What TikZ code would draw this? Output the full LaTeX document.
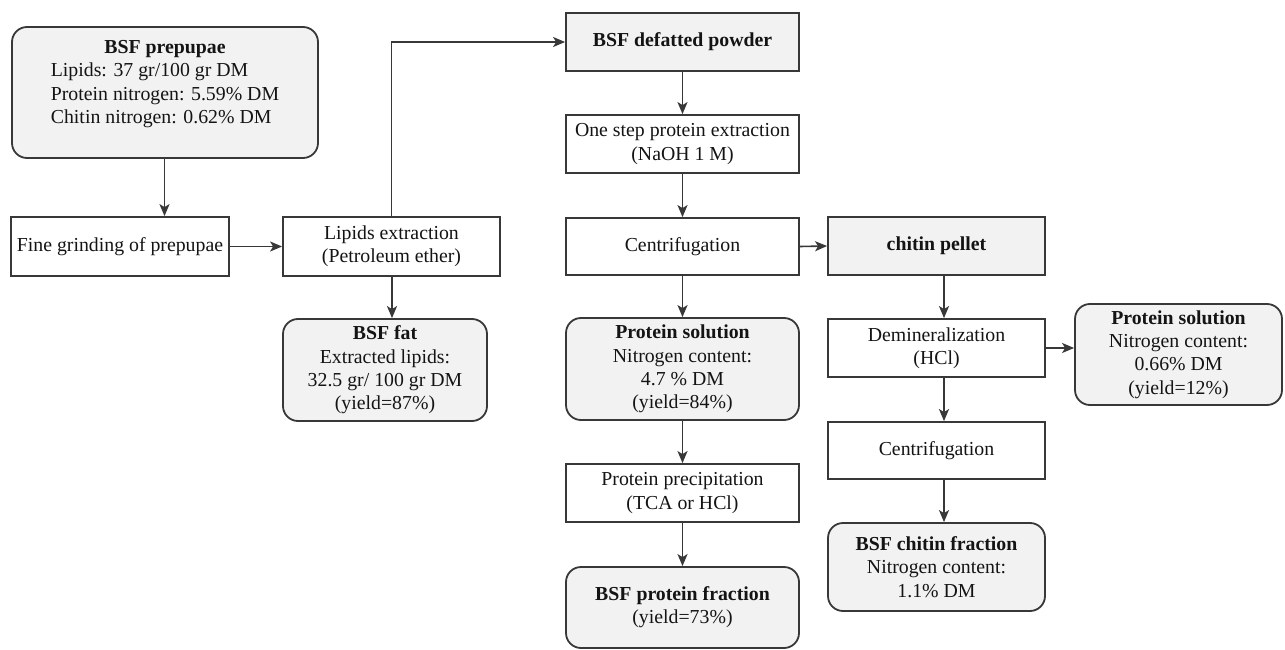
\documentclass[tikz,border=0pt]{standalone}
\usepackage{fontspec}
\setmainfont{Liberation Serif}
\usetikzlibrary{arrows.meta}
\definecolor{linec}{HTML}{383838}
\definecolor{boxfill}{HTML}{F2F2F2}
\definecolor{inkc}{HTML}{141414}
\newcommand\diagfont{\fontsize{19.8}{23.3}\selectfont}
\tikzset{
  box/.style={draw=linec, line width=1.8pt, fill=white, align=center,
    inner sep=0pt, font=\diagfont, text=inkc},
  shaded/.style={box, fill=boxfill},
  rbox/.style={box, fill=boxfill, rounded corners=15pt},
  txt/.style={align=center, inner sep=0pt, font=\diagfont, text=inkc},
  arr/.style={draw=linec, line width=1.6pt,
    -{Stealth[length=12pt,width=10pt,inset=3pt]}}
}
\begin{document}
\begin{tikzpicture}[x=1pt, y=-1pt]
\useasboundingbox (0,0) rectangle (1285,650);
\fill[white] (0,0) rectangle (1285,650);

% left column
\node[rbox, minimum width=306pt, minimum height=131pt] (prep) at (165,92.5) {};
\node[txt] (prepText) at ([yshift=7pt]prep.center)
  {\textbf{BSF prepupae}\\\begin{tabular}[t]{@{}l@{}}Lipids: 37 gr/100 gr DM\\
   Protein nitrogen: 5.59\% DM\\ Chitin nitrogen: 0.62\% DM\end{tabular}};
\node[box, minimum width=218pt, minimum height=59pt] (grind) at (120,246.5)
  {Fine grinding of prepupae};

% lipid extraction
\node[box, minimum width=217pt, minimum height=59pt] (lipid) at (391.5,246.5)
  {Lipids extraction\\(Petroleum ether)};
\node[rbox, minimum width=204pt, minimum height=102pt] (fat) at (385,370)
  {\textbf{BSF fat}\\Extracted lipids:\\32.5 gr/ 100 gr DM\\(yield=87\%)};

% protein column
\node[shaded, minimum width=233pt, minimum height=58pt] (powder) at (682.5,42)
  {\textbf{BSF defatted powder}};
\node[box, minimum width=233pt, minimum height=58pt] (onestep) at (682.5,144)
  {One step protein extraction\\(NaOH 1 M)};
\node[box, minimum width=233pt, minimum height=57pt] (centA) at (682.5,246.5)
  {Centrifugation};
\node[rbox, minimum width=233pt, minimum height=102pt] (psol) at (682.5,369)
  {\textbf{Protein solution}\\Nitrogen content:\\4.7 \% DM\\(yield=84\%)};
\node[box, minimum width=233pt, minimum height=58pt] (precip) at (682.5,493)
  {Protein precipitation\\(TCA or HCl)};
\node[rbox, minimum width=233pt, minimum height=81pt] (pfrac) at (682.5,607.5)
  {\textbf{BSF protein fraction}\\(yield=73\%)};

% chitin column
\node[shaded, minimum width=217pt, minimum height=58pt] (pellet) at (936.5,246)
  {\textbf{chitin pellet}};
\node[box, minimum width=217pt, minimum height=58pt] (demin) at (936.5,348)
  {Demineralization\\(HCl)};
\node[box, minimum width=217pt, minimum height=57pt] (centB) at (936.5,450.5)
  {Centrifugation};
\node[rbox, minimum width=217pt, minimum height=88pt] (cfrac) at (936.5,567)
  {\textbf{BSF chitin fraction}\\Nitrogen content:\\1.1\% DM};
\node[rbox, minimum width=207pt, minimum height=101pt] (psolB) at (1178.5,354.5)
  {\textbf{Protein solution}\\Nitrogen content:\\0.66\% DM\\(yield=12\%)};

% connectors
\draw[arr] (prep.south -| 164.5,0) -- (grind.north -| 164.5,0);
\draw[arr] (grind.east) -- (lipid.west);
\draw[arr] (lipid.north) |- (powder.west);
\draw[arr] ([xshift=0.5pt]lipid.south) -- ([xshift=0.5pt]lipid.south |- fat.north);
\draw[arr] (powder.south) -- (onestep.north);
\draw[arr] (onestep.south) -- (centA.north);
\draw[arr] (centA.south) -- (psol.north);
\draw[arr] (psol.south) -- (precip.north);
\draw[arr] (precip.south) -- (pfrac.north);
\draw[arr] (centA.east) -- (pellet.west);
\draw[arr] ([xshift=7.5pt]pellet.south) -- ([xshift=7.5pt]demin.north);
\draw[arr] ([xshift=7.5pt]demin.south) -- ([xshift=7.5pt]centB.north);
\draw[arr] ([xshift=7.5pt]centB.south) -- ([xshift=7.5pt]cfrac.north);
\draw[arr] (demin.east) -- (demin.east -| psolB.west);
\end{tikzpicture}
\end{document}
